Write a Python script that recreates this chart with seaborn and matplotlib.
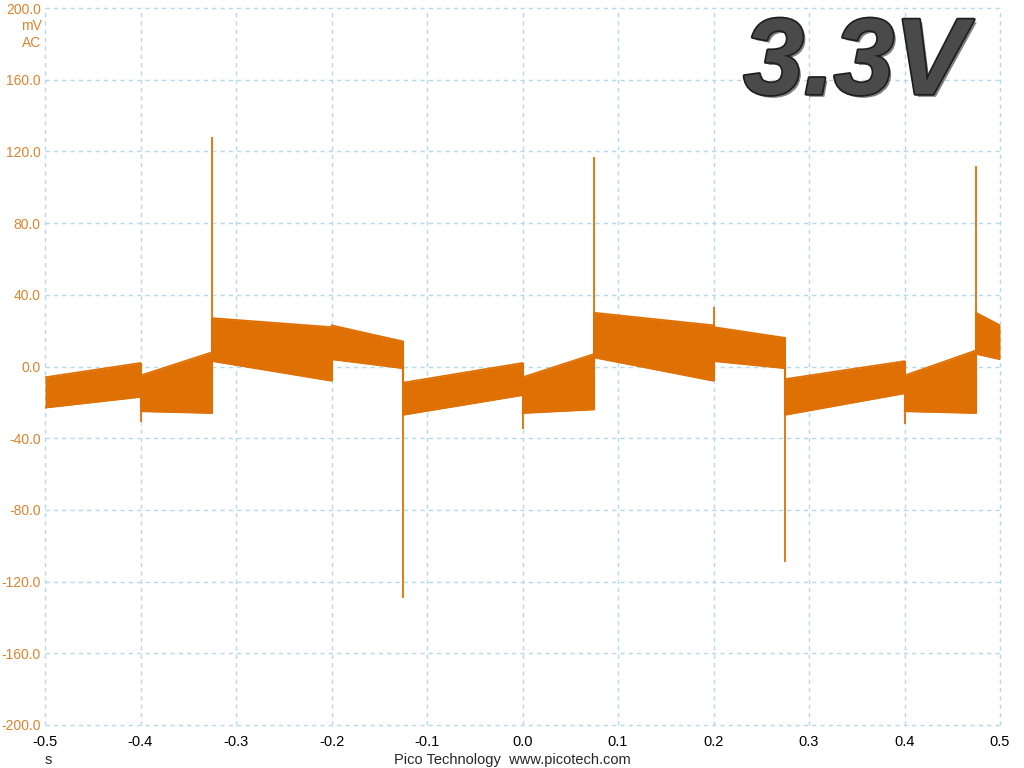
import numpy as np
import pandas as pd
import matplotlib
matplotlib.use("Agg")
import matplotlib.pyplot as plt
import matplotlib.patheffects as pe
import seaborn as sns

# ---- data (time in s, voltage in mV) ----
seg_start = [-0.5, -0.4, -0.325, -0.2, -0.125, 0.0, 0.075, 0.2, 0.275, 0.4, 0.475]
seg_end = [-0.4, -0.325, -0.2, -0.125, 0.0, 0.075, 0.2, 0.275, 0.4, 0.475, 0.5]
upper_start = [-6, -5, 27, 23, -9, -6, 30, 22, -7, -5, 30]
upper_end = [2, 8, 22, 14, 2, 7, 23, 16, 3, 9, 23]
lower_start = [-23, -25, 3, 4, -27, -26, 5, 3, -27, -25, 7]
lower_end = [-17, -26, -8, -1, -16, -24, -8, -1, -15, -26, 4]
spike_x = [-0.4, -0.325, -0.125, 0.0, 0.075, 0.2, 0.275, 0.4, 0.475]
spike_y = [-31, 128, -129, -35, 117, 33, -109, -32, 112]
x_ticks = [-0.5, -0.4, -0.3, -0.2, -0.1, 0.0, 0.1, 0.2, 0.3, 0.4, 0.5]
y_ticks = [-200, -160, -120, -80, -40, 0, 40, 80, 120, 160, 200]

ORANGE = "#DF7004"
LABEL_ORANGE = "#D9852F"
GRID = "#B4D8EC"

sns.set_theme(style="white")
plt.rcParams["font.family"] = ["Liberation Sans", "DejaVu Sans"]

fig = plt.figure(figsize=(10.24, 7.68), dpi=100)
ax = fig.add_axes([45 / 1024, 43 / 768, 955 / 1024, 717 / 768])

# envelope table
rows = []
for i in range(len(seg_start)):
    rows.append({"t": seg_start[i], "hi": upper_start[i], "lo": lower_start[i], "seg": i})
    rows.append({"t": seg_end[i], "hi": upper_end[i], "lo": lower_end[i], "seg": i})
env = pd.DataFrame(rows)

for i, g in env.groupby("seg"):
    ax.fill_between(g["t"], g["lo"], g["hi"], color=ORANGE, lw=0, zorder=3)
    sns.lineplot(x=g["t"], y=g["hi"], ax=ax, color=ORANGE, lw=1.2, zorder=3)
    sns.lineplot(x=g["t"], y=g["lo"], ax=ax, color=ORANGE, lw=1.2, zorder=3)

# vertical transitions between segments
for i in range(len(seg_start) - 1):
    lo = min(lower_end[i], lower_start[i + 1])
    hi = max(upper_end[i], upper_start[i + 1])
    ax.vlines(seg_end[i], lo, hi, color=ORANGE, lw=1.5, zorder=3)

# spikes
ax.vlines(spike_x, 0, spike_y, color=ORANGE, lw=1.3, zorder=3)

ax.set_xlim(-0.5, 0.5)
ax.set_ylim(-200, 200)
ax.set_xticks(x_ticks)
ax.set_yticks(y_ticks)
ax.set_xticklabels([f"{v:.1f}" for v in x_ticks])
ax.set_yticklabels([f"{v:.1f}" for v in y_ticks])
ax.set_xlabel("")
ax.set_ylabel("")
for s in ax.spines.values():
    s.set_visible(False)
ax.grid(True, color=GRID, ls=(0, (3, 3)), lw=1.0)
for gl in ax.get_xgridlines() + ax.get_ygridlines():
    gl.set_clip_on(False)
ax.tick_params(axis="both", length=0)
ax.tick_params(axis="y", colors=LABEL_ORANGE, labelsize=10, pad=3)
ax.tick_params(axis="x", colors="black", labelsize=10.5, pad=7)
for lab in ax.get_yticklabels():
    lab.set_color(LABEL_ORANGE)

ax.text(-0.0035, 0.975, "mV", transform=ax.transAxes, ha="right", va="center",
        color=LABEL_ORANGE, fontsize=10)
ax.text(-0.0035, 0.951, "AC", transform=ax.transAxes, ha="right", va="center",
        color=LABEL_ORANGE, fontsize=10)

fig.text(48 / 1024, 1 - 760 / 768, "s", ha="center", va="center", fontsize=10.5)
fig.text(512 / 1024, 1 - 760 / 768, "Pico Technology  www.picotech.com",
         ha="center", va="center", fontsize=10.5)

fig.text(855 / 1024, 1 - 66 / 768, "3.3V", ha="center", va="center",
         fontsize=78, fontweight="bold", fontstyle="italic", color="#4a4a4a",
         path_effects=[pe.withSimplePatchShadow(offset=(2, -2), shadow_rgbFace="#000000", alpha=0.5),
                       pe.Stroke(linewidth=2.5, foreground="#1e1e1e"),
                       pe.Normal()])

fig.savefig("out.png", dpi=100, facecolor="white")
